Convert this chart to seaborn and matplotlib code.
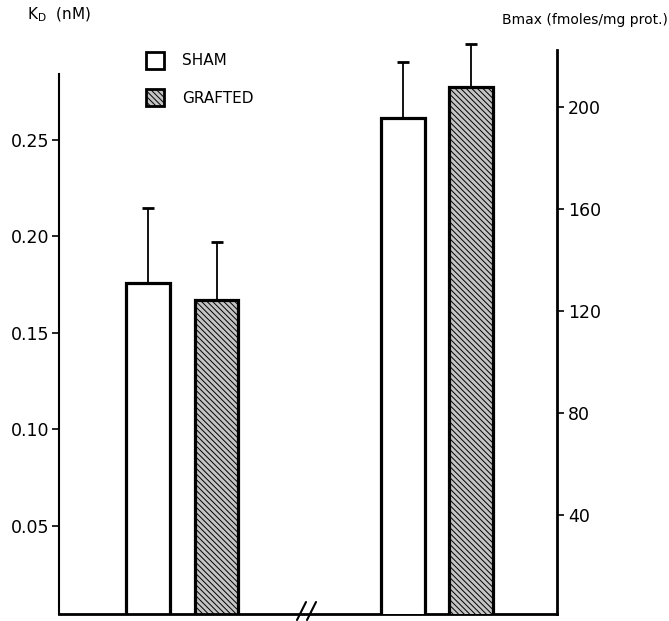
import numpy as np
import pandas as pd
import seaborn as sns
import matplotlib.pyplot as plt
from matplotlib.patches import Patch
from matplotlib.lines import Line2D

# values
treatments = ["SHAM", "GRAFTED"]
kd_mean = [0.176, 0.167]
kd_err = [0.039, 0.030]
bmax_mean = [195.7, 207.9]
bmax_err = [22.0, 16.8]
kd_ticks = [0.05, 0.10, 0.15, 0.20, 0.25]
bmax_ticks = [40, 80, 120, 160, 200]

# layout: bar centres on the shared x axis
kd_x = [0, 1]
bmax_x = [3.72, 4.72]

sns.set_style("white")
plt.rcParams["font.family"] = ["DejaVu Sans"]
plt.rcParams.update({"hatch.linewidth": 0.7, "text.color": "black",
                     "axes.edgecolor": "black", "xtick.color": "black",
                     "ytick.color": "black", "axes.labelcolor": "black"})

colors = {"SHAM": "white", "GRAFTED": "#c4c4c4"}
HATCH = "\\" * 6

fig = plt.figure(figsize=(6.69, 6.21), dpi=100)
ax = fig.add_axes([59 / 669, 7 / 621, 498 / 669, 574 / 621])
ax2 = ax.twinx()

df_kd = pd.DataFrame({"x": kd_x, "val": kd_mean, "grp": treatments})
df_bm = pd.DataFrame({"x": bmax_x, "val": bmax_mean, "grp": treatments})

for a, df, err in [(ax, df_kd, kd_err), (ax2, df_bm, bmax_err)]:
    sns.barplot(data=df, x="x", y="val", hue="grp", hue_order=treatments,
                palette=colors, native_scale=True, dodge=False, width=0.64,
                edgecolor="black", linewidth=2.3, errorbar=None,
                legend=False, ax=a)
    for p in a.containers[1]:
        p.set_hatch(HATCH)
    a.errorbar(df["x"], df["val"], yerr=[np.zeros(len(err)), err], fmt="none",
               ecolor="black", elinewidth=1.3, capsize=4, capthick=2, zorder=3)
    a.set_xlabel("")
    a.set_ylabel("")

ax.set_xlim(-1.30, 5.97)
ax.set_ylim(0.0044, 0.3018)
ax2.set_ylim(1.0, 226.3)

ax.set_xticks([])
ax.set_yticks(kd_ticks)
ax.set_yticklabels([f"{t:.2f}" for t in kd_ticks])
ax2.set_yticks(bmax_ticks)
ax2.set_yticklabels([str(t) for t in bmax_ticks])
ax.tick_params(axis="y", direction="out", length=5, width=1.2, pad=2, labelsize=12.5, left=True)
ax2.tick_params(axis="y", direction="out", length=5, width=1.2, pad=3, labelsize=12.5, right=True)

for s in ["top", "right"]:
    ax.spines[s].set_visible(False)
for s in ["top", "left", "bottom"]:
    ax2.spines[s].set_visible(False)
ax.spines["left"].set_linewidth(1.5)
ax.spines["left"].set_bounds(0.0044, 0.284)
ax.spines["bottom"].set_linewidth(2)
ax2.spines["right"].set_linewidth(2)
ax2.spines["right"].set_bounds(1.0, 222.4)

# legend
handles = [Patch(facecolor=colors[t], edgecolor="black", linewidth=2,
                 hatch=(HATCH if t == "GRAFTED" else None)) for t in treatments]
ax2.legend(handles, treatments, loc="upper left", frameon=False,
           bbox_to_anchor=(146 / 669, 1 - 52 / 621), bbox_transform=fig.transFigure,
           borderpad=0, borderaxespad=0, handlelength=1.15, handleheight=1.3,
           handletextpad=1.2, labelspacing=1.35, fontsize=11)

# axis titles
fig.text(27 / 669, 1 - 15 / 621, r"K$_\mathregular{D}$  (nM)", fontsize=11, va="center")
fig.text(668 / 669, 1 - 20 / 621, "Bmax (fmoles/mg prot.)", fontsize=10,
         va="center", ha="right")

# axis break marks
for x0 in [297, 307]:
    fig.add_artist(Line2D([x0 / 669, (x0 + 9) / 669], [1 - 620 / 621, 1 - 602 / 621],
                          color="black", lw=1.5))

fig.savefig("out.png", dpi=100)
